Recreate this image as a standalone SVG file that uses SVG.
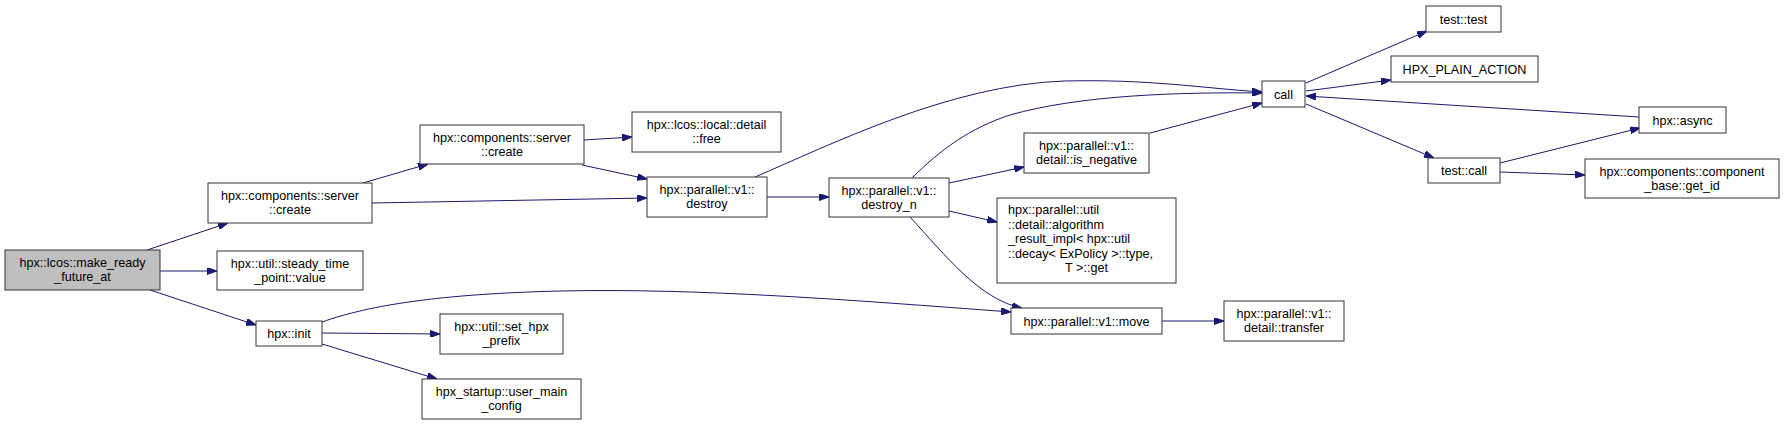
<svg xmlns="http://www.w3.org/2000/svg" width="1785" height="426" viewBox="0 0 1785 426">
<style>
.n rect{fill:#fff;stroke:#333;stroke-width:1}
.n.hl rect{fill:#bfbfbf}
text{font-family:"Liberation Sans",Arial,sans-serif;font-size:12.6px;fill:#000;text-anchor:middle}
text.l{text-anchor:start}
#edges path{fill:none;stroke:#191970;stroke-width:1;marker-end:url(#ah)}
</style>
<defs>
<marker id="ah" viewBox="0 0 10 7" refX="10" refY="3.5" markerWidth="10" markerHeight="7" markerUnits="userSpaceOnUse" orient="auto">
<path d="M0,0 L10,3.5 L0,7 z" fill="#191970" stroke="#191970"/>
</marker>
</defs>
<rect width="1785" height="426" fill="#fff"/>
<g id="edges">
<path d="M147,250 L228,223"/>
<path d="M160,271 L217,271"/>
<path d="M150,290 L256,325"/>
<path d="M322,322 C370,305 440,294 560,291 C700,288 850,300 1011,312"/>
<path d="M322,333 L440,334"/>
<path d="M322,344 L437,379"/>
<path d="M372,203 L647,198"/>
<path d="M363,183 L428,164"/>
<path d="M584,140 L632,137"/>
<path d="M582,165 L647,179"/>
<path d="M755,177 C830,145 950,85 1064,81 C1150,79 1200,88 1262,92"/>
<path d="M912,178 C940,150 970,128 1010,115 C1080,95 1180,92 1262,93"/>
<path d="M1150,133 L1262,103"/>
<path d="M767,197 L829,197"/>
<path d="M949,183 L1024,167"/>
<path d="M949,211 L997,222"/>
<path d="M910,217 C945,255 980,300 1022,308"/>
<path d="M1162,321 L1224,321"/>
<path d="M1306,83 L1427,31"/>
<path d="M1306,91 L1391,80"/>
<path d="M1639,117 L1306,96"/>
<path d="M1306,104 L1434,158"/>
<path d="M1500,163 L1640,128"/>
<path d="M1500,172 L1585,175"/>
</g>
<g id="make_ready" class="n hl"><rect x="5" y="250" width="155" height="40"/><text x="82.5" y="267">hpx::lcos::make_ready</text><text x="82.5" y="281">_future_at</text></g>
<g id="server_create1" class="n"><rect x="208" y="183" width="164" height="40"/><text x="290" y="200">hpx::components::server</text><text x="290" y="214">::create</text></g>
<g id="steady_time" class="n"><rect x="217" y="251" width="146" height="39"/><text x="290" y="268">hpx::util::steady_time</text><text x="290" y="282">_point::value</text></g>
<g id="init" class="n"><rect x="256" y="321" width="66" height="25"/><text x="289" y="338">hpx::init</text></g>
<g id="set_hpx_prefix" class="n"><rect x="440" y="314" width="123" height="40"/><text x="501.5" y="331">hpx::util::set_hpx</text><text x="501.5" y="345">_prefix</text></g>
<g id="user_main_config" class="n"><rect x="422" y="379" width="159" height="40"/><text x="501.5" y="396">hpx_startup::user_main</text><text x="501.5" y="410">_config</text></g>
<g id="server_create2" class="n"><rect x="420" y="125" width="164" height="39"/><text x="502" y="142">hpx::components::server</text><text x="502" y="156">::create</text></g>
<g id="detail_free" class="n"><rect x="632" y="112" width="149" height="40"/><text x="706.5" y="129">hpx::lcos::local::detail</text><text x="706.5" y="143">::free</text></g>
<g id="destroy" class="n"><rect x="647" y="177" width="120" height="40"/><text x="707" y="194">hpx::parallel::v1::</text><text x="707" y="208">destroy</text></g>
<g id="destroy_n" class="n"><rect x="829" y="178" width="120" height="39"/><text x="889" y="195">hpx::parallel::v1::</text><text x="889" y="209">destroy_n</text></g>
<g id="is_negative" class="n"><rect x="1024" y="133" width="125" height="40"/><text x="1086.5" y="150">hpx::parallel::v1::</text><text x="1086.5" y="164">detail::is_negative</text></g>
<g id="algorithm_result" class="n"><rect x="997" y="198" width="179" height="85"/><text class="l" x="1008" y="214">hpx::parallel::util</text><text class="l" x="1008" y="228.5">::detail::algorithm</text><text class="l" x="1008" y="243">_result_impl&lt; hpx::util</text><text class="l" x="1008" y="257.5">::decay&lt; ExPolicy &gt;::type,</text><text x="1086.5" y="272">T &gt;::get</text></g>
<g id="move" class="n"><rect x="1011" y="308" width="151" height="26"/><text x="1086.5" y="325.5">hpx::parallel::v1::move</text></g>
<g id="transfer" class="n"><rect x="1224" y="301" width="120" height="40"/><text x="1284" y="318">hpx::parallel::v1::</text><text x="1284" y="332">detail::transfer</text></g>
<g id="call" class="n"><rect x="1262" y="81" width="43" height="26"/><text x="1283.5" y="98.5">call</text></g>
<g id="test_test" class="n"><rect x="1426" y="6" width="75" height="26"/><text x="1463.5" y="23.5">test::test</text></g>
<g id="hpx_plain_action" class="n"><rect x="1391" y="56" width="147" height="26"/><text x="1464.5" y="73.5">HPX_PLAIN_ACTION</text></g>
<g id="hpx_async" class="n"><rect x="1639" y="107" width="87" height="26"/><text x="1682.5" y="124.5">hpx::async</text></g>
<g id="test_call" class="n"><rect x="1428" y="158" width="72" height="25"/><text x="1464" y="175">test::call</text></g>
<g id="get_id" class="n"><rect x="1585" y="159" width="194" height="39"/><text x="1682" y="176">hpx::components::component</text><text x="1682" y="190">_base::get_id</text></g>
</svg>
